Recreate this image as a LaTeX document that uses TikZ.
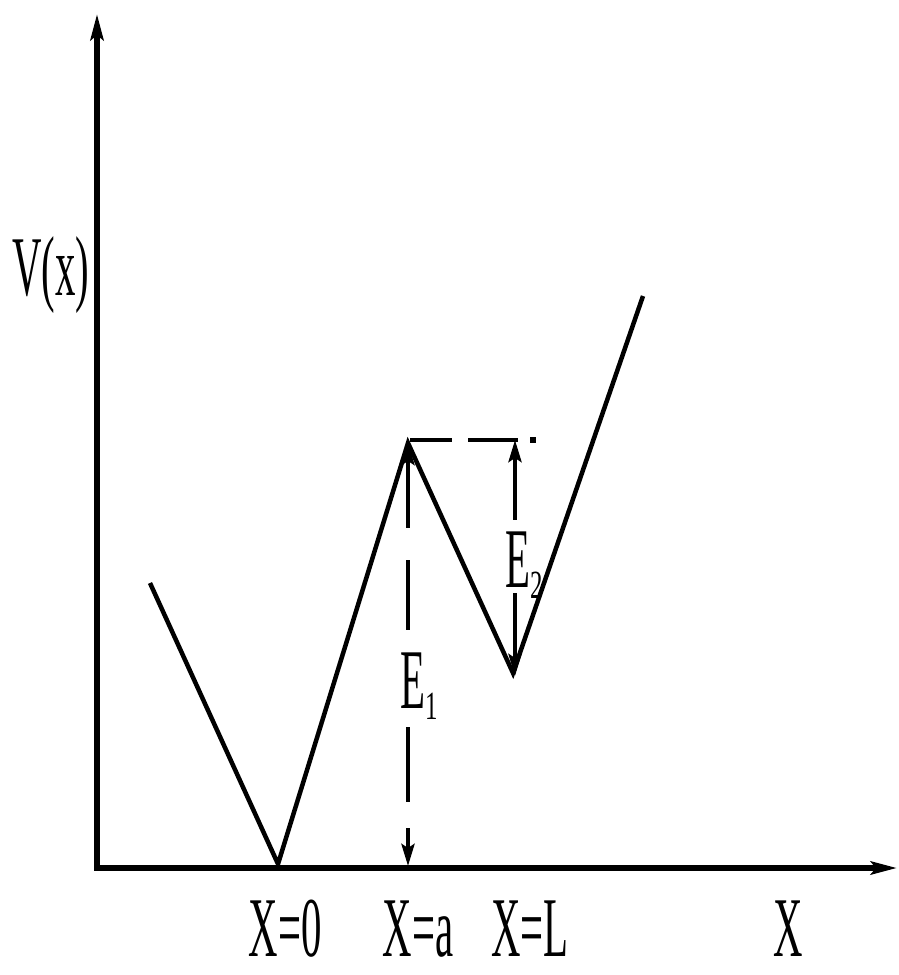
\documentclass[tikz,border=0pt]{standalone}
\usepackage{fontspec}
\usepackage{graphicx}
\setmainfont{Liberation Serif}
\usetikzlibrary{arrows.meta}
\newcommand{\cond}[1]{\scalebox{0.48}[1]{#1}}
\newcommand{\subs}[1]{\raisebox{-11pt}{\fontsize{40}{40}\selectfont\scalebox{0.62}[1]{#1}}}
\begin{document}
\begin{tikzpicture}[x=1pt,y=-1pt,
  axisline/.style={line width=5.5pt,-{Stealth[length=26pt,width=13pt,inset=5pt]}},
  curve/.style={line width=4.5pt,line join=miter},
  meas/.style={line width=4pt},
  tipend/.style={-{Stealth[length=22pt,width=13pt,inset=4pt]}},
  tipstart/.style={{Stealth[length=22pt,width=13pt,inset=4pt]}-},
  lbl/.style={inner sep=0pt,text depth=0pt,font=\fontsize{85}{90}\selectfont}]
\useasboundingbox (0,0) rectangle (898,975);
% axes
\coordinate (O) at (97,868);
\coordinate (ytop) at (97,14);
\coordinate (xend) at (897,868);
\draw[axisline] (O) -- (ytop);
\draw[axisline] ([xshift=-2.75pt]O) -- (xend);
% potential
\coordinate (p0) at (150,583);
\coordinate (p1) at (278,864);
\coordinate (p2) at (408,443);
\coordinate (p3) at (513,673);
\coordinate (p4) at (643,296);
\draw[curve] (p0) -- (p1) -- (p2) -- (p3) -- (p4);
% dashed level
\coordinate (h1) at (410,440);
\coordinate (h2) at (452,440);
\coordinate (h3) at (468,440);
\coordinate (h4) at (518,440);
\draw[meas] (h1) -- (h2);
\draw[meas] (h3) -- (h4);
\fill (530,437) rectangle (536,443);
% E1 arrow
\coordinate (e1a) at (408,443);
\coordinate (e1b) at (408,528);
\coordinate (e1c) at (408,560);
\coordinate (e1d) at (408,630);
\coordinate (e1e) at (408,727);
\coordinate (e1f) at (408,802);
\coordinate (e1g) at (408,828);
\coordinate (e1h) at (408,866);
\draw[meas,tipstart] (e1a) -- (e1b);
\draw[meas] (e1c) -- (e1d);
\draw[meas] (e1e) -- (e1f);
\draw[meas,tipend] (e1g) -- (e1h);
% E2 arrow
\coordinate (e2a) at (515,440);
\coordinate (e2b) at (515,520);
\coordinate (e2c) at (515,593);
\coordinate (e2d) at (515,676);
\draw[meas,tipstart] (e2a) -- (e2b);
\draw[meas,tipend] (e2c) -- (e2d);
% labels
\node[lbl,anchor=base west] (vx) at (12,295) {\cond{V(x)}};
\node[lbl,anchor=base west] (E1) at (400,708) {\cond{E}\subs{1}};
\node[lbl,anchor=base west] (E2) at (505,587) {\cond{E}\subs{2}};
\node[lbl,anchor=base] (x0) at (285,956) {\cond{X=0}};
\node[lbl,anchor=base] (xa) at (418,956) {\cond{X=a}};
\node[lbl,anchor=base] (xl) at (530,956) {\cond{X=L}};
\node[lbl,anchor=base] (xx) at (788,956) {\cond{X}};
\end{tikzpicture}
\end{document}
